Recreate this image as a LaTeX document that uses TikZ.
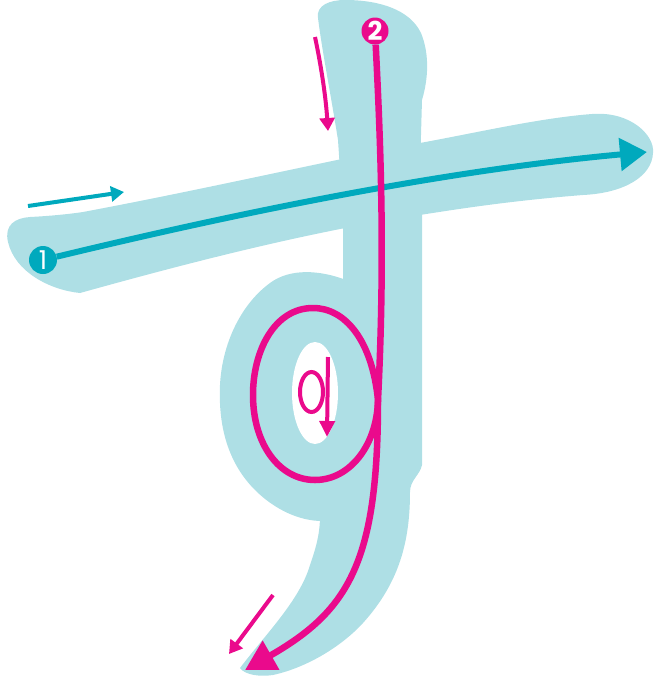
\documentclass[tikz,border=0pt]{standalone}
\usepackage{fontspec}
\setmainfont{Poppins}
\usetikzlibrary{arrows.meta}
\definecolor{pale}{HTML}{AEDFE5}
\definecolor{teal1}{HTML}{00A9BD}
\definecolor{mag}{HTML}{EA0A8C}
\begin{document}
\begin{tikzpicture}[x=1pt,y=-1pt,
  brush/.style={fill=pale,draw=none},
  startdot/.style={circle,inner sep=0pt,text=white,font=\fontsize{26}{26}\selectfont},
  tealline/.style={draw=teal1,line width=6pt},
  magline/.style={draw=mag,line width=6.5pt},
  hint/.style={line width=4pt,-{Triangle[length=13pt,width=15pt]}}]
\useasboundingbox (0,0) rectangle (657,681);
% --- brush shape ---
\fill[brush] (83,212) .. controls (200,190) and (300,167) .. (420,143)
  .. controls (480,132) and (540,118) .. (592,114)
  .. controls (630,111) and (655,135) .. (653,153)
  .. controls (652,176) and (625,193) .. (583,195)
  .. controls (520,200) and (470,207) .. (420,215)
  .. controls (300,233) and (170,268) .. (80,293)
  .. controls (50,290) and (15,272) .. (8,242)
  .. controls (4,225) and (15,218) .. (30,217)
  .. controls (50,216) and (70,214) .. (83,212) -- cycle;
\fill[brush] (340,170) -- (338,140) .. controls (330,90) and (322,50) .. (318,18)
  .. controls (316,5) and (330,0) .. (345,0)
  .. controls (380,0) and (410,10) .. (421,33)
  .. controls (430,55) and (428,80) .. (422,100) -- (420,170) -- cycle;
\fill[brush] (343,200) -- (422,200) -- (422,465)
  .. controls (420,475) and (410,480) .. (410,492)
  .. controls (410,540) and (400,582) .. (363,623)
  .. controls (340,648) and (305,668) .. (273,675)
  .. controls (260,677) and (245,675) .. (240,668)
  .. controls (265,635) and (300,600) .. (310,565)
  .. controls (317,545) and (320,532) .. (320,515) -- (343,400) -- cycle;
\fill[brush] (346,280) .. controls (320,270) and (290,268) .. (270,283)
  .. controls (240,305) and (222,345) .. (220,385)
  .. controls (218,430) and (230,465) .. (255,490)
  .. controls (275,510) and (300,521) .. (322,521) -- (346,500) -- cycle;
\fill[white] (315,393) ellipse[x radius=23, y radius=51];
% --- hint arrows ---
\coordinate (h1a) at (28,206); \coordinate (h1b) at (124,192);
\draw[hint,teal1] (h1a) -- (h1b);
\coordinate (h2a) at (315,37); \coordinate (h2b) at (328,131);
\draw[hint,mag] (h2a) .. controls (322,70) and (326,100) .. (h2b);
\coordinate (h3a) at (273,595); \coordinate (h3b) at (229,654);
\draw[hint,mag] (h3a) -- (h3b);
% loop direction hint
\coordinate (dc) at (311.5,392);
\draw[mag,line width=4pt] (dc) ellipse[x radius=11.5, y radius=20];
\coordinate (d1) at (328,357); \coordinate (d2) at (327,437);
\draw[mag,line width=4pt,-{Triangle[length=16pt,width=15pt]}] (d1) -- (d2);
% --- stroke 1 ---
\node[startdot,fill=teal1,minimum size=28pt] (s1) at (43,260) {1};
\coordinate (e1) at (647,152);
\draw[tealline,-{Triangle[length=27pt,width=32pt]}] (s1) .. controls (250,210) and (450,170) .. (e1);
% --- stroke 2 ---
\coordinate (m) at (378,400);
\coordinate (e2) at (245,670);
\draw[magline] (m) .. controls (372,340) and (345,308) .. (313,308)
  .. controls (275,308) and (253,350) .. (253,395)
  .. controls (253,445) and (280,480) .. (315,480)
  .. controls (350,480) and (377,445) .. (m);
\node[startdot,fill=mag,minimum size=27pt,font=\fontsize{26}{26}\selectfont\bfseries] (s2) at (375,31) {2};
\draw[magline,-{Triangle[length=30pt,width=32pt]}] (s2) .. controls (381,150) and (385,260) .. (m)
  .. controls (378,560) and (350,610) .. (e2);
\end{tikzpicture}
\end{document}
